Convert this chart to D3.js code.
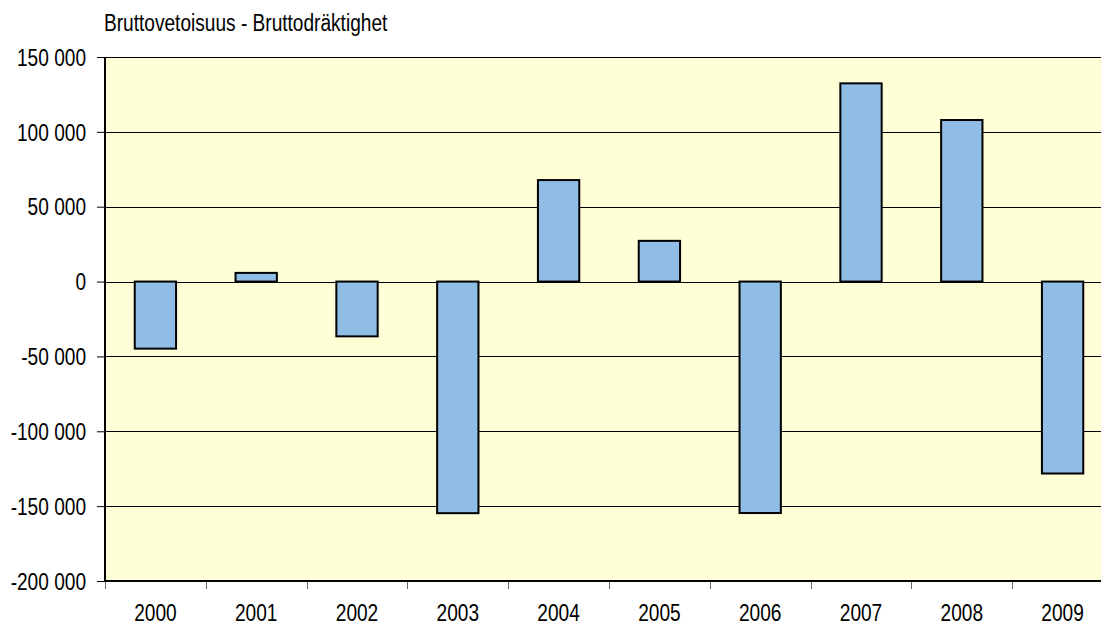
<!DOCTYPE html>
<html>
<head>
<meta charset="utf-8">
<script src="https://cdn.jsdelivr.net/npm/d3@7"></script>
<style>
  body { margin: 0; background: #fff; }
  svg { display: block; }
  .lbl { font-family: "Liberation Sans", Arial, sans-serif; fill: #000; }
</style>
</head>
<body>
<div id="chart"></div>
<script>
// chart data
var years = ['2000', '2001', '2002', '2003', '2004', '2005', '2006', '2007', '2008', '2009'];
var grossTonnage = [-44800, 5800, -36600, -154700, 67800, 27200, -154600, 132400, 107900, -128200];
var yTicks = [-200000, -150000, -100000, -50000, 0, 50000, 100000, 150000];
var title = 'Bruttovetoisuus - Bruttodräktighet';

var W = 1101, H = 626;
var margin = { top: 57, left: 105 },
    width = 1008,
    height = 524;
var fontSize = '23px';

var fi = d3.formatLocale({ decimal: ',', thousands: ' ', grouping: [3], currency: ['', ''], minus: '-' });
var fmt = fi.format(',d');

var svg = d3.select('#chart').append('svg')
    .attr('width', W)
    .attr('height', H)
    .style('overflow', 'hidden');

// squeeze text like a narrow font
function narrow(sel) {
    sel.each(function () {
        var w = this.getComputedTextLength();
        d3.select(this)
            .attr('textLength', w * 0.83)
            .attr('lengthAdjust', 'spacingAndGlyphs');
    });
}

svg.append('text')
    .attr('class', 'lbl')
    .attr('x', 104)
    .attr('y', 31)
    .style('font-size', fontSize)
    .text(title)
    .call(narrow);

var g = svg.append('g')
    .attr('transform', 'translate(' + margin.left + ',' + margin.top + ')');

var x = d3.scaleBand().domain(years).range([0, width]);
var xBar = d3.scaleBand().domain(years).range([0, width]).paddingInner(0.59).paddingOuter(0.295);
var y = d3.scaleLinear().domain([-200000, 150000]).range([height, 0]);

// plot background
g.append('rect')
    .attr('x', 0).attr('y', 0)
    .attr('width', width).attr('height', height)
    .attr('fill', '#ffffd7');

// gridlines
g.selectAll('.grid')
    .data(yTicks.filter(function (d) { return d > -200000; }))
    .enter().append('line')
    .attr('class', 'grid')
    .attr('x1', 0).attr('x2', width)
    .attr('y1', function (d) { return Math.round(y(d)) + 0.5; })
    .attr('y2', function (d) { return Math.round(y(d)) + 0.5; })
    .attr('stroke', '#000')
    .attr('stroke-width', 1);

// bars
g.selectAll('.bar')
    .data(grossTonnage)
    .enter().append('rect')
    .attr('class', 'bar')
    .attr('x', function (d, i) { return xBar(years[i]); })
    .attr('width', xBar.bandwidth())
    .attr('y', function (d) { return y(Math.max(0, d)); })
    .attr('height', function (d) { return Math.abs(y(d) - y(0)); })
    .attr('fill', '#8fbde6')
    .attr('stroke', '#000')
    .attr('stroke-width', 2);

// y axis
var yAxis = d3.axisLeft(y).tickValues(yTicks).tickFormat(fmt).tickSize(8).tickPadding(11);
var ya = g.append('g').call(yAxis);
ya.select('.domain').remove();
ya.selectAll('.tick line').attr('stroke', '#000');
ya.selectAll('.tick text')
    .attr('class', 'lbl')
    .attr('fill', '#000')
    .attr('dy', '0.36em')
    .style('font-size', fontSize)
    .call(narrow);
g.append('line')
    .attr('x1', 0).attr('x2', 0)
    .attr('y1', 0).attr('y2', height)
    .attr('stroke', '#000')
    .attr('stroke-width', 2);

// x axis
var xAxis = d3.axisBottom(x).tickSize(0).tickPadding(0);
var xa = g.append('g')
    .attr('transform', 'translate(0,' + height + ')')
    .call(xAxis);
xa.select('.domain').remove();
xa.selectAll('.tick text')
    .attr('class', 'lbl')
    .attr('fill', '#000')
    .attr('y', 40)
    .attr('dy', 0)
    .style('font-size', fontSize)
    .call(narrow);

g.selectAll('.xtick')
    .data(years.map(function (d) { return x(d); }).concat([width]))
    .enter().append('line')
    .attr('class', 'xtick')
    .attr('x1', function (d) { return Math.round(d) + 0.5; })
    .attr('x2', function (d) { return Math.round(d) + 0.5; })
    .attr('y1', height).attr('y2', height + 8)
    .attr('stroke', '#666')
    .attr('stroke-width', 1);

g.append('line')
    .attr('x1', 0).attr('x2', width)
    .attr('y1', height).attr('y2', height)
    .attr('stroke', '#000')
    .attr('stroke-width', 2);
</script>
</body>
</html>
